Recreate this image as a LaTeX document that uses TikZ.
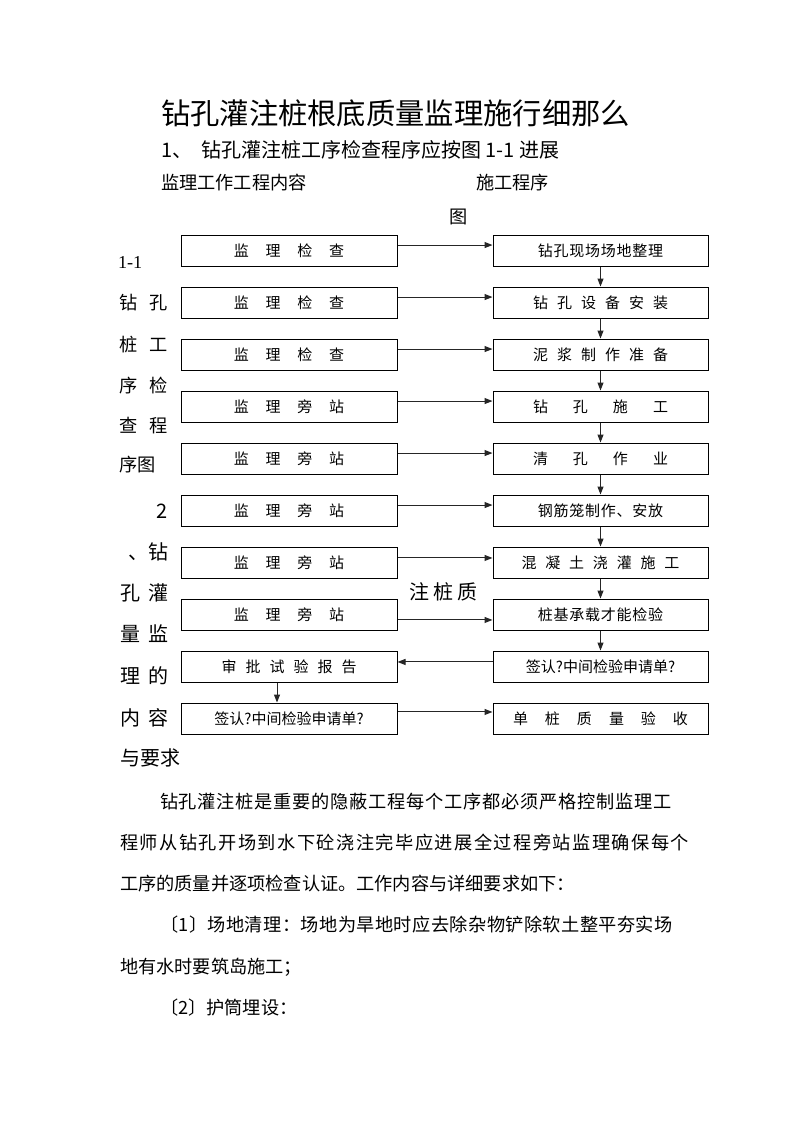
\documentclass[tikz,border=0pt]{standalone}
\usepackage{fontspec}
\setmainfont{Noto Sans CJK SC}
\newfontfamily\latserif{Liberation Serif}
\usetikzlibrary{arrows.meta}
\newdimen\px \px=0.75pt
\newcommand\gap[1]{\hspace*{#1\px}}
\newcommand\ftitle{\fontsize{22pt}{26pt}\selectfont}
\newcommand\fhead{\fontsize{15pt}{18pt}\selectfont}
\newcommand\fbody{\fontsize{13.65pt}{16pt}\selectfont}
\newcommand\fbx{\fontsize{11.25pt}{13pt}\selectfont}
\tikzset{
  txt/.style={inner sep=0pt, outer sep=0pt, text=black},
  lbox/.style={draw=black, line width=0.75pt, minimum width=162pt, minimum height=23.25pt, inner sep=0pt, font=\fbx},
  rbox/.style={draw=black, line width=0.75pt, minimum width=161.25pt, minimum height=23.25pt, inner sep=0pt, font=\fbx},
  arr/.style={draw=black!85, line width=0.75pt, -{Triangle[length=6pt,width=4.5pt]}}
}
\begin{document}
\begin{tikzpicture}[x=0.75pt,y=-0.75pt]
\fill[white] (0,0) rectangle (793,1122);
\useasboundingbox (0,0) rectangle (793,1122);
% headings
\node[txt, anchor=west, font=\ftitle] (title) at (161,113) {钻孔灌注桩根底质量监理施行细那么};
\node[txt, anchor=west, font=\fhead] (h1) at (161,150) {1、\gap{9}钻孔灌注桩工序检查程序应按图 1-1 进展};
\node[txt, anchor=west, font=\fbody] (c1) at (161,183) {监理工作工程内容};
\node[txt, anchor=west, font=\fbody] (c2) at (476,183) {施工程序};
\node[txt, anchor=west, font=\fbody] (c3) at (449,217) {图};
% left column text
\node[txt, anchor=west, font=\fbody\latserif] (s1) at (118,262) {1-1};
\node[txt, anchor=west, font=\fbody] (s2) at (119,303) {钻\gap{12}孔};
\node[txt, anchor=west, font=\fbody] (s3) at (119,345) {桩\gap{12}工};
\node[txt, anchor=west, font=\fbody] (s4) at (119,386) {序\gap{12}检};
\node[txt, anchor=west, font=\fbody] (s5) at (119,426) {查\gap{12}程};
\node[txt, anchor=west, font=\fbody] (s6) at (119,465) {序图};
\node[txt, anchor=east, font=\fhead] (t1) at (168,511) {2};
\node[txt, anchor=east, font=\fhead] (t2) at (168,552) {、钻};
\node[txt, anchor=west, font=\fhead] (t3) at (120,593) {孔\gap{8}灌};
\node[txt, anchor=west, font=\fhead] (t4) at (120,634) {量\gap{8}监};
\node[txt, anchor=west, font=\fhead] (t5) at (120,676) {理\gap{8}的};
\node[txt, anchor=west, font=\fhead] (t6) at (120,718) {内\gap{8}容};
\node[txt, anchor=west, font=\fhead] (t7) at (120,758) {与要求};
\node[txt, anchor=west, font=\fhead] (t8) at (409,592) {注\gap{4}桩\gap{4}质};
% left boxes
\node[lbox] (L0) at (289,250.5) {监\gap{16.7}理\gap{16.7}检\gap{16.7}查};
\node[lbox] (L1) at (289,302.5) {监\gap{16.7}理\gap{16.7}检\gap{16.7}查};
\node[lbox] (L2) at (289,354.5) {监\gap{16.7}理\gap{16.7}检\gap{16.7}查};
\node[lbox] (L3) at (289,406.5) {监\gap{16.7}理\gap{16.7}旁\gap{16.7}站};
\node[lbox] (L4) at (289,458.5) {监\gap{16.7}理\gap{16.7}旁\gap{16.7}站};
\node[lbox] (L5) at (289,510.5) {监\gap{16.7}理\gap{16.7}旁\gap{16.7}站};
\node[lbox] (L6) at (289,562.5) {监\gap{16.7}理\gap{16.7}旁\gap{16.7}站};
\node[lbox] (L7) at (289,614.5) {监\gap{16.7}理\gap{16.7}旁\gap{16.7}站};
\node[lbox] (L8) at (289,666.5) {审\gap{9}批\gap{9}试\gap{9}验\gap{9}报\gap{9}告};
\node[lbox] (L9) at (289,718.5) {签认?中间检验申请单?};
% right boxes
\node[rbox, font={\fbx\addfontfeatures{LetterSpace=5}}] (R0) at (600.5,250.5) {钻孔现场场地整理};
\node[rbox] (R1) at (600.5,302.5) {钻\gap{9}孔\gap{9}设\gap{9}备\gap{9}安\gap{9}装};
\node[rbox] (R2) at (600.5,354.5) {泥\gap{9}浆\gap{9}制\gap{9}作\gap{9}准\gap{9}备};
\node[rbox] (R3) at (600.5,406.5) {钻\gap{25}孔\gap{25}施\gap{25}工};
\node[rbox] (R4) at (600.5,458.5) {清\gap{25}孔\gap{25}作\gap{25}业};
\node[rbox, font={\fbx\addfontfeatures{LetterSpace=5}}] (R5) at (600.5,510.5) {钢筋笼制作、安放};
\node[rbox] (R6) at (600.5,562.5) {混\gap{8.8}凝\gap{8.8}土\gap{8.8}浇\gap{8.8}灌\gap{8.8}施\gap{8.8}工};
\node[rbox, font={\fbx\addfontfeatures{LetterSpace=5}}] (R7) at (600.5,614.5) {桩基承载才能检验};
\node[rbox] (R8) at (600.5,666.5) {签认?中间检验申请单?};
\node[rbox] (R9) at (600.5,718.5) {单\gap{17}桩\gap{17}质\gap{17}量\gap{17}验\gap{17}收};
% horizontal arrows
\draw[arr] ([yshift=4.1pt]L0.east) -- ([yshift=4.1pt]R0.west);
\draw[arr] ([yshift=4.1pt]L1.east) -- ([yshift=4.1pt]R1.west);
\draw[arr] ([yshift=4.1pt]L2.east) -- ([yshift=4.1pt]R2.west);
\draw[arr] ([yshift=4.1pt]L3.east) -- ([yshift=4.1pt]R3.west);
\draw[arr] ([yshift=4.1pt]L4.east) -- ([yshift=4.1pt]R4.west);
\draw[arr] ([yshift=4.1pt]L5.east) -- ([yshift=4.1pt]R5.west);
\draw[arr] ([yshift=3.4pt]L6.east) -- ([yshift=3.4pt]R6.west);
\draw[arr] ([yshift=-4.1pt]L7.east) -- ([yshift=-4.1pt]R7.west);
\draw[arr] ([yshift=3.4pt]R8.west) -- ([yshift=3.4pt]L8.east);
\draw[arr] ([yshift=4.9pt]L9.east) -- ([yshift=4.9pt]R9.west);
% vertical arrows
\draw[arr] (R0.south) -- (R1.north);
\draw[arr] (R1.south) -- (R2.north);
\draw[arr] (R2.south) -- (R3.north);
\draw[arr] (R3.south) -- (R4.north);
\draw[arr] (R4.south) -- (R5.north);
\draw[arr] (R5.south) -- (R6.north);
\draw[arr] (R6.south) -- (R7.north);
\draw[arr] (R7.south) -- (R8.north);
\draw[arr] ([xshift=-9pt]L8.south) -- ([xshift=-9pt]L9.north);
% body text
\node[txt, anchor=west, font={\fbody\addfontfeatures{LetterSpace=4.2}}] (b1) at (160,802) {钻孔灌注桩是重要的隐蔽工程每个工序都必须严格控制监理工};
\node[txt, anchor=west, font={\fbody\addfontfeatures{LetterSpace=8.1}}] (b2) at (120,843) {程师从钻孔开场到水下砼浇注完毕应进展全过程旁站监理确保每个};
\node[txt, anchor=west, font=\fbody] (b3) at (120,884) {工序的质量并逐项检查认证。工作内容与详细要求如下：};
\node[txt, anchor=west, font={\fbody\addfontfeatures{LetterSpace=2.3}}] (b4) at (160,925) {〔1〕场地清理：场地为旱地时应去除杂物铲除软土整平夯实场};
\node[txt, anchor=west, font=\fbody] (b5) at (120,967) {地有水时要筑岛施工；};
\node[txt, anchor=west, font=\fbody] (b6) at (160,1008) {〔2〕护筒埋设：};
\end{tikzpicture}
\end{document}
